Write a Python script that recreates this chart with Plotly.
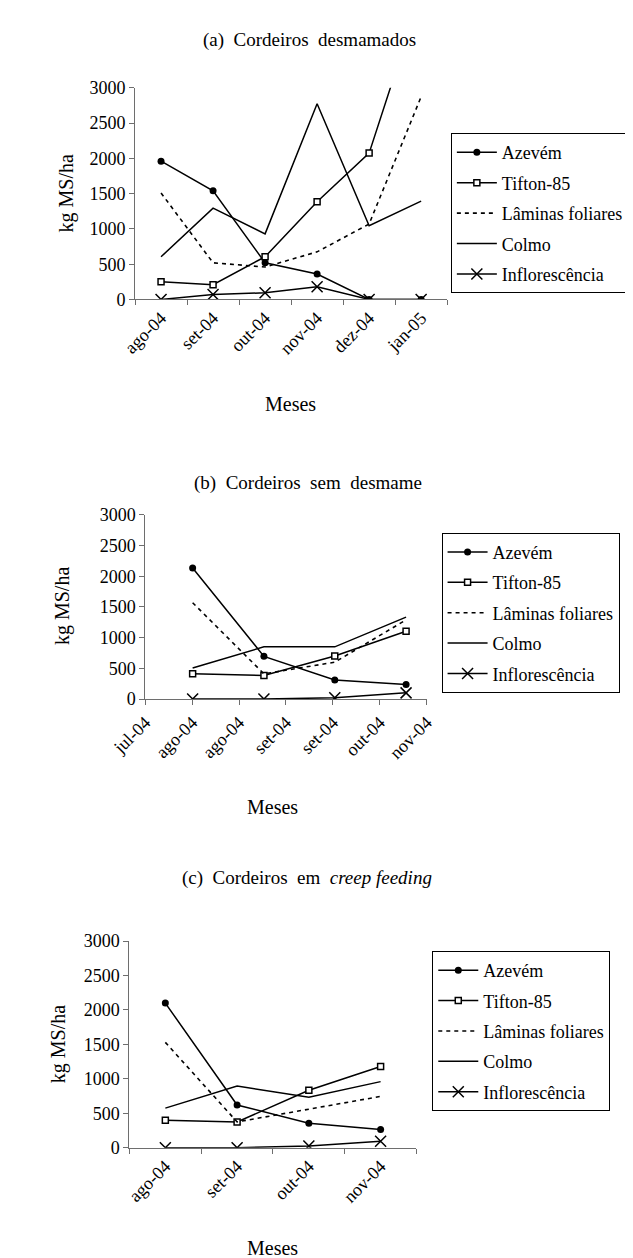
import plotly.graph_objects as go

# ---------------- data ----------------
series_names = ["Azevém", "Tifton-85", "Lâminas foliares", "Colmo", "Inflorescência"]

# (a) Cordeiros desmamados
A_cats = ["ago-04", "set-04", "out-04", "nov-04", "dez-04", "jan-05"]
A_azevem = [1960, 1540, 520, 360, 0, 0]
A_tifton = [250, 210, 605, 1385, 2075, 4340]
A_laminas = [1510, 520, 460, 675, 1070, 2875]
A_colmo = [605, 1295, 930, 2775, 1045, 1395]
A_infl = [0, 70, 95, 180, 0, 0]

# (b) Cordeiros sem desmame (date axis: tick labels at tick positions 0..6)
B_ticklabels = ["jul-04", "ago-04", "ago-04", "set-04", "set-04", "out-04", "nov-04"]
B_ticks = [0, 1, 2, 3, 4, 5, 6]
B_x = [1.01, 2.53, 4.04, 5.56]
B_azevem = [2135, 695, 310, 235]
B_tifton = [410, 385, 700, 1105]
B_laminas = [1570, 410, 600, 1290]
B_colmo = [505, 850, 850, 1335]
B_infl = [0, 0, 20, 100]

# (c) Cordeiros em creep feeding
C_cats = ["ago-04", "set-04", "out-04", "nov-04"]
C_azevem = [2100, 620, 355, 265]
C_tifton = [400, 375, 835, 1180]
C_laminas = [1530, 375, 560, 745]
C_colmo = [575, 895, 735, 960]
C_infl = [0, 0, 25, 95]

# ---------------- styling ----------------
W, H = 633, 1258
FONT = "Liberation Serif, Times New Roman, serif"
BLACK = "#000000"
AXC = "#6e6e6e"


def px_x(p):
    return p / W


def px_y(p):
    return 1 - p / H


styles = [
    dict(mode="lines+markers", line=dict(color=BLACK, width=1.5),
         marker=dict(symbol="circle", size=7, color=BLACK)),
    dict(mode="lines+markers", line=dict(color=BLACK, width=1.5),
         marker=dict(symbol="square", size=6, color="white", line=dict(color=BLACK, width=1.5))),
    dict(mode="lines", line=dict(color=BLACK, width=1.6, dash="4px,4px")),
    dict(mode="lines", line=dict(color=BLACK, width=1.5)),
    dict(mode="lines+markers", line=dict(color=BLACK, width=1.5),
         marker=dict(symbol="x-thin", size=11, color=BLACK, line=dict(color=BLACK, width=1.5))),
]

fig = go.Figure()

panels = [
    ("x", "y", "legend", A_cats, [A_azevem, A_tifton, A_laminas, A_colmo, A_infl]),
    ("x2", "y2", "legend2", B_x, [B_azevem, B_tifton, B_laminas, B_colmo, B_infl]),
    ("x3", "y3", "legend3", C_cats, [C_azevem, C_tifton, C_laminas, C_colmo, C_infl]),
]

for pi, (xa, ya, lg, xs, ys_list) in enumerate(panels):
    for si, (name, ys) in enumerate(zip(series_names, ys_list)):
        st = styles[si]
        kw = dict(x=xs, y=ys, name=name, xaxis=xa, yaxis=ya, legend=lg,
                  legendgroup=f"p{pi}s{si}", mode=st["mode"], line=st["line"],
                  cliponaxis=True)
        if "marker" in st:
            kw["marker"] = st["marker"]
        fig.add_trace(go.Scatter(**kw))

tickfont = dict(family=FONT, size=18, color=BLACK)

yax_common = dict(range=[0, 3000], dtick=500, showline=True, linecolor=AXC, linewidth=1,
                  ticks="outside", ticklen=5, tickcolor=AXC, showgrid=False, zeroline=False,
                  tickfont=tickfont, fixedrange=True)
xax_common = dict(showline=True, linecolor=AXC, linewidth=1, ticks="outside", ticklen=5,
                  tickcolor=AXC, showgrid=False, zeroline=False, tickfont=tickfont,
                  tickangle=-45, fixedrange=True)

# panel geometry (pixels)
A_box = dict(x0=98, x1=434, y0=71, y1=286)
B_box = dict(x0=109, x1=412, y0=505, y1=692)
C_box = dict(x0=92, x1=401, y0=938, y1=1148)

fig.update_layout(
    xaxis=dict(**xax_common, type="category", tickson="boundaries",
               range=[-0.5, len(A_cats) - 0.5],
               domain=[px_x(A_box["x0"]), px_x(A_box["x1"])], anchor="y"),
    yaxis=dict(**yax_common, domain=[px_y(A_box["y1"]), px_y(A_box["y0"])], anchor="x"),
    xaxis2=dict(**xax_common, type="linear", range=[B_ticks[0], B_ticks[-1]],
                tickvals=B_ticks, ticktext=B_ticklabels,
                domain=[px_x(B_box["x0"]), px_x(B_box["x1"])], anchor="y2"),
    yaxis2=dict(**yax_common, domain=[px_y(B_box["y1"]), px_y(B_box["y0"])], anchor="x2"),
    xaxis3=dict(**xax_common, type="category", tickson="boundaries",
                range=[-0.5, len(C_cats) - 0.5],
                domain=[px_x(C_box["x0"]), px_x(C_box["x1"])], anchor="y3"),
    yaxis3=dict(**yax_common, domain=[px_y(C_box["y1"]), px_y(C_box["y0"])], anchor="x3"),
)

leg_common = dict(bordercolor=BLACK, borderwidth=1, bgcolor="white",
                  font=dict(family=FONT, size=18, color=BLACK),
                  xanchor="left", yanchor="top", tracegroupgap=4, itemwidth=40)
fig.update_layout(
    legend=dict(**leg_common, x=px_x(438), y=px_y(117)),
    legend2=dict(**leg_common, x=px_x(428), y=px_y(523)),
    legend3=dict(**leg_common, x=px_x(418), y=px_y(948)),
)

ann = []
title_font = dict(family=FONT, size=19, color=BLACK)
axis_title_font = dict(family=FONT, size=20, color=BLACK)
ann.append(dict(text="(a)  Cordeiros  desmamados", x=px_x(286), y=px_y(22)))
ann.append(dict(text="(b)  Cordeiros  sem  desmame", x=px_x(284), y=px_y(473)))
ann.append(dict(text="(c)  Cordeiros  em  <i>creep feeding</i>", x=px_x(283), y=px_y(874)))
annotations = []
for a in ann:
    annotations.append(dict(**a, xref="paper", yref="paper", showarrow=False,
                            xanchor="center", yanchor="middle", font=title_font))
for (mx, my) in [(265, 392), (246, 802), (246, 1250)]:
    annotations.append(dict(text="Meses", x=px_x(mx), y=px_y(my), xref="paper", yref="paper",
                            showarrow=False, xanchor="center", yanchor="middle",
                            font=axis_title_font))
for (kx, ky) in [(24, 178), (20, 598), (16, 1043)]:
    annotations.append(dict(text="kg MS/ha", x=px_x(kx), y=px_y(ky), xref="paper", yref="paper",
                            showarrow=False, xanchor="center", yanchor="middle", textangle=-90,
                            font=axis_title_font))

fig.update_layout(
    width=W, height=H,
    margin=dict(l=0, r=0, t=0, b=0),
    paper_bgcolor="white", plot_bgcolor="white",
    showlegend=True,
    annotations=annotations,
    font=dict(family=FONT, color=BLACK),
)

fig.write_html("out.html")
